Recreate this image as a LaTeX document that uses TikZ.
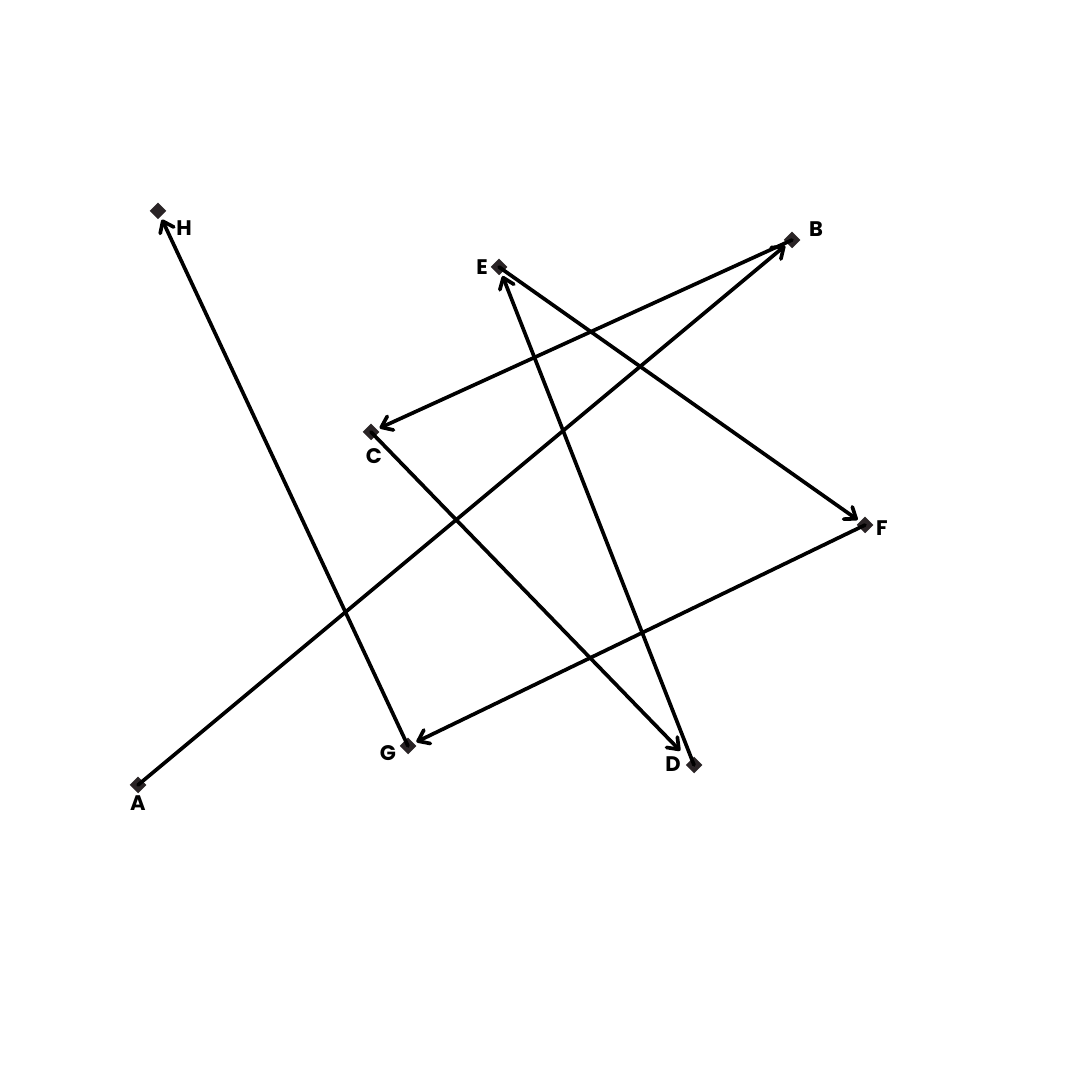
\documentclass[tikz,border=0pt]{standalone}
\usepackage{fontspec}
\setmainfont{Poppins}
\usetikzlibrary{arrows.meta,shapes.geometric}
\definecolor{pointfill}{HTML}{2A2426}
\begin{document}
\begin{tikzpicture}[
  every label/.style={inner sep=0pt, font=\fontsize{6}{7}\selectfont\bfseries},
  point/.style={diamond, fill=pointfill, minimum size=1.9mm, inner sep=0pt, outer sep=0.3mm},
  arrow/.style={-{Straight Barb[length=1mm,width=1.5mm,round]}, line width=1.05pt, line cap=round}
]
\useasboundingbox (0,0) rectangle (10.8,10.8);

% Points
\node[point, label={[yshift=-0.18cm]center:A}] (A) at (1.38,2.95) {};
\node[point, label={[xshift=0.24cm,yshift=0.11cm]center:B}] (B) at (7.92,8.40) {};
\node[point, label={[xshift=0.03cm,yshift=-0.24cm]center:C}] (C) at (3.71,6.48) {};
\node[point, label={[xshift=-0.21cm,yshift=0.01cm]center:D}] (D) at (6.94,3.15) {};
\node[point, label={[xshift=-0.17cm]center:E}] (E) at (4.99,8.13) {};
\node[point, label={[xshift=0.17cm,yshift=-0.03cm]center:F}] (F) at (8.65,5.55) {};
\node[point, label={[xshift=-0.20cm,yshift=-0.07cm]center:G}] (G) at (4.08,3.34) {};
\node[point, label={[xshift=0.26cm,yshift=-0.17cm]center:H}] (H) at (1.58,8.69) {};

% Arrows
\draw[arrow] (A.center) -- (B);
\draw[arrow] (B.center) -- (C);
\draw[arrow, shorten >=1.1mm] (C.center) -- (D);
\draw[arrow] (D.center) -- (E);
\draw[arrow] (E.center) -- (F);
\draw[arrow] (F.center) -- (G);
\draw[arrow] (G.center) -- (H);

\end{tikzpicture}
\end{document}
